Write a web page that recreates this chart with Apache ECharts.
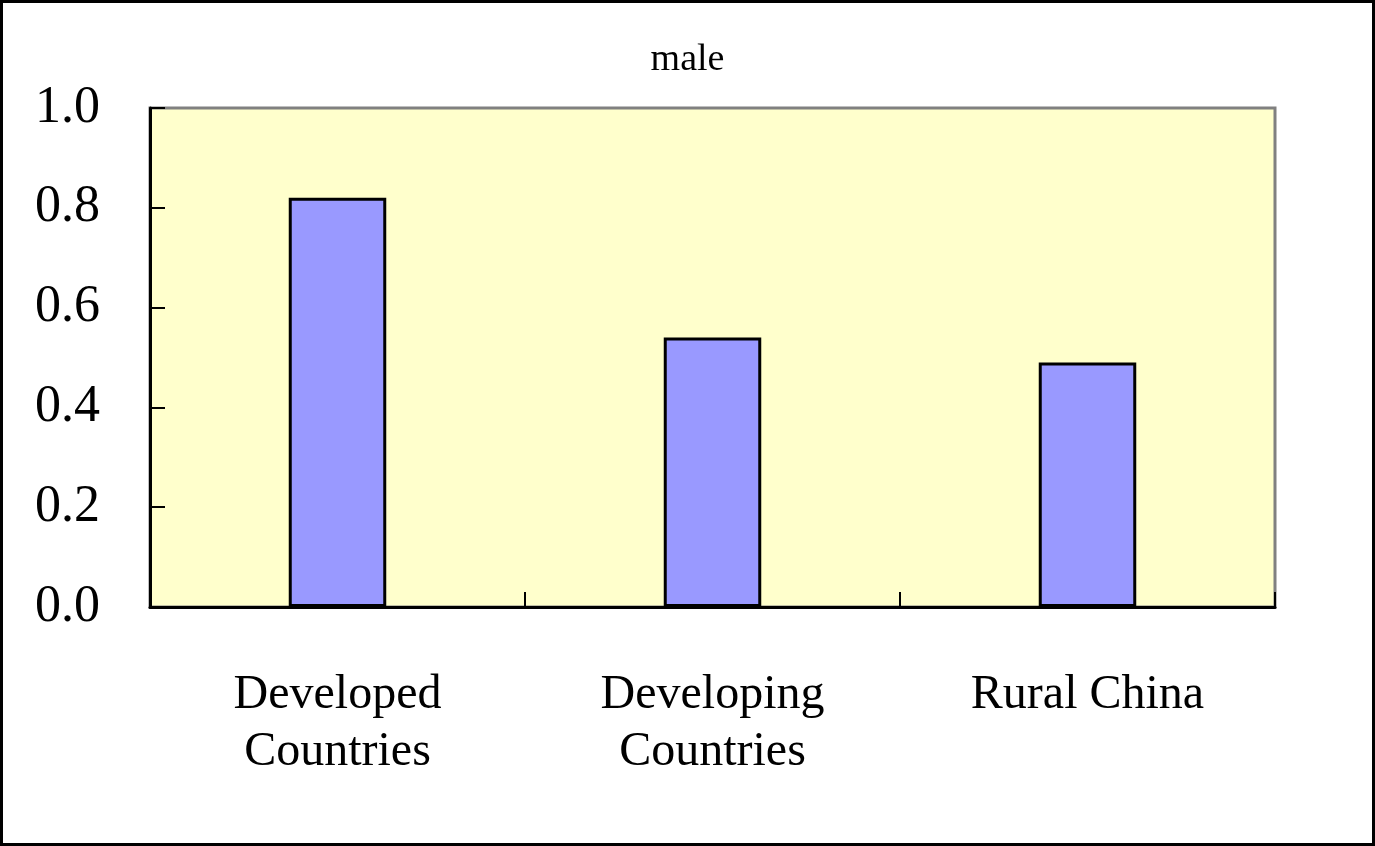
<!DOCTYPE html>
<html lang="en">
<head>
    <meta charset="utf-8" />
    <title>male</title>
    <script src="https://cdn.jsdelivr.net/npm/echarts@6/dist/echarts.min.js"></script>
    <style>
        html, body { margin: 0; padding: 0; background: #fff; }
        #chartmain { width: 1375px; height: 846px; }
    </style>
</head>
<body>
    <div id="chartmain"></div>
    <script>
        // data
        var categories = ['Developed\nCountries', 'Developing\nCountries', 'Rural China'];
        var maleValues = [0.82, 0.54, 0.49];
        var yTicks = [0, 0.2, 0.4, 0.6, 0.8, 1.0];

        var serif = '"Liberation Serif", "Times New Roman", serif';

        var chart = echarts.init(document.getElementById('chartmain'));
        chart.setOption({
            animation: false,
            title: {
                text: 'male', left: 'center', top: 36,
                textStyle: { fontFamily: serif, fontSize: 38, fontWeight: 'normal', color: '#000' }
            },
            graphic: [{
                type: 'rect', silent: true, z: 100,
                shape: { x: 1.5, y: 1.5, width: 1372, height: 843 },
                style: { fill: 'none', stroke: '#000', lineWidth: 3 }
            }],
            grid: {
                left: 150, top: 108, right: 100, bottom: 239,
                show: true, backgroundColor: '#FFFFCC',
                borderColor: '#808080', borderWidth: 3
            },
            xAxis: {
                type: 'category', data: categories,
                axisLine: { show: true, lineStyle: { color: '#000', width: 3 } },
                axisTick: { show: true, inside: true, length: 15, alignWithLabel: false, interval: 0, lineStyle: { color: '#000', width: 2 } },
                axisLabel: { fontFamily: serif, fontSize: 48, color: '#000', margin: 60, lineHeight: 57 }
            },
            yAxis: {
                type: 'value', min: 0, max: 1, interval: 0.2,
                axisLine: { show: true, lineStyle: { color: '#000', width: 3 } },
                axisTick: { show: true, inside: true, length: 15, lineStyle: { color: '#000', width: 2 } },
                splitLine: { show: false },
                axisLabel: {
                    fontFamily: serif, fontSize: 52, color: '#000', margin: 50,
                    formatter: function (v) { return yTicks.indexOf(Math.round(v * 10) / 10) >= 0 ? v.toFixed(1) : ''; }
                }
            },
            series: [{
                name: 'male', type: 'bar', data: maleValues, barWidth: '26%',
                itemStyle: { color: '#9999FF', borderColor: '#000', borderWidth: 3 }
            }]
        });
    </script>
</body>
</html>
